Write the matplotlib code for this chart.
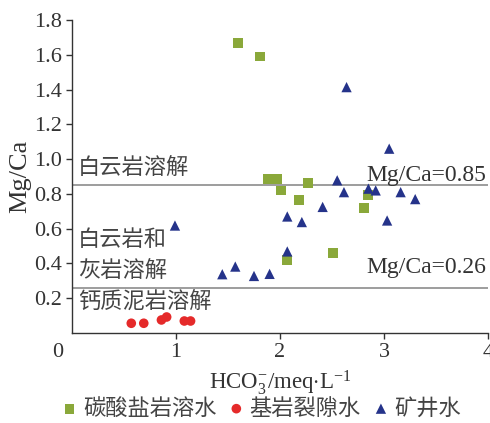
import matplotlib
matplotlib.use("Agg")
import matplotlib.pyplot as plt

plt.rcParams['font.family'] = ['Liberation Serif', 'Noto Sans CJK SC', 'DejaVu Sans']
plt.rcParams['mathtext.fontset'] = 'custom'
plt.rcParams['mathtext.rm'] = 'Liberation Serif'
plt.rcParams['mathtext.it'] = 'Liberation Serif:italic'

# Data
carb_x = [1.60, 1.81, 1.88, 1.97, 2.01, 2.27, 2.18, 2.81, 2.85, 2.51, 2.07]
carb_y = [1.67, 1.59, 0.886, 0.886, 0.82, 0.863, 0.763, 0.72, 0.795, 0.46, 0.42]
bed_x = [0.57, 0.69, 0.86, 0.91, 1.08, 1.14]
bed_y = [0.056, 0.056, 0.075, 0.092, 0.069, 0.069]
mine_x = [2.64, 3.05, 2.55, 2.85, 2.92, 2.615, 3.16, 3.30, 2.41, 2.07, 2.21, 3.03,
          0.99, 2.07, 1.57, 1.445, 1.75, 1.90]
mine_y = [1.414, 1.06, 0.878, 0.83, 0.82, 0.81, 0.81, 0.77, 0.725, 0.67, 0.638, 0.647,
          0.618, 0.469, 0.382, 0.338, 0.328, 0.34]
series_names = ['碳酸盐岩溶水', '基岩裂隙水', '矿井水']
thresholds = [0.85, 0.26]
xticks = [1, 2, 3, 4]
yticks = [0.2, 0.4, 0.6, 0.8, 1.0, 1.2, 1.4, 1.6, 1.8]

W, H = 490, 423
fig = plt.figure(figsize=(W / 100, H / 100), dpi=100)
ax = fig.add_axes([72 / W, (H - 333) / H, 416 / W, 313 / H])
ax.set_xlim(0, 4)
ax.set_ylim(0, 1.8)

cjk = ['Noto Sans CJK SC', 'DejaVu Sans']
tc = '#333333'
ctc = '#444444'

for t in thresholds:
    ax.axhline(t, color='#8c8c8c', lw=1.2, zorder=1)

ax.scatter(carb_x, carb_y, marker='s', s=50, color='#8aa83a', edgecolors='none', zorder=3, label=series_names[0])
ax.scatter(bed_x, bed_y, marker='o', s=48, color='#e52a2a', edgecolors='none', zorder=3, label=series_names[1])
ax.scatter(mine_x, mine_y, marker='^', s=55, color='#25338a', edgecolors='none', zorder=3, label=series_names[2])

for s in ['top', 'right']:
    ax.spines[s].set_visible(False)
for s in ['left', 'bottom']:
    ax.spines[s].set_color('#333333')
    ax.spines[s].set_linewidth(1.0)

ax.set_xticks(xticks)
ax.set_xticklabels([str(v) for v in xticks])
ax.set_yticks(yticks)
ax.set_yticklabels([f'{v:.1f}' for v in yticks])
ax.tick_params(direction='out', length=4, width=1, color='#333333', labelsize=16, labelcolor=tc, pad=3)
ax.text(-14 / 416 * 4, -0.11, '0', fontsize=16, color=tc, ha='center', va='center', transform=ax.transData, clip_on=False)

ax.set_ylabel('Mg/Ca', fontsize=19, color=tc, labelpad=2)
ax.set_xlabel(r'HCO$_3^{-}$/meq$\cdot$L$^{-1}$', fontsize=16.5, color=tc, labelpad=5)

ax.text(0.06, 0.955, '白云岩溶解', fontsize=16, family=cjk, color=ctc, ha='left', va='center')
ax.text(3.98, 0.905, 'Mg/Ca=0.85', fontsize=17, color=tc, ha='right', va='center')
ax.text(0.06, 0.535, '白云岩和', fontsize=16, family=cjk, color=ctc, ha='left', va='center')
ax.text(0.06, 0.36, '灰岩溶解', fontsize=16, family=cjk, color=ctc, ha='left', va='center')
ax.text(3.98, 0.375, 'Mg/Ca=0.26', fontsize=17, color=tc, ha='right', va='center')
ax.text(0.06, 0.185, '钙质泥岩溶解', fontsize=16, family=cjk, color=ctc, ha='left', va='center')

leg = fig.legend(loc='center', bbox_to_anchor=(0.53, (H - 408) / H), ncol=3, frameon=False,
                 handletextpad=0.1, columnspacing=0.4, handlelength=1.0, borderaxespad=0,
                 prop={'family': cjk, 'size': 16})
for t in leg.get_texts():
    t.set_color(ctc)

fig.savefig('out.png', dpi=100)
